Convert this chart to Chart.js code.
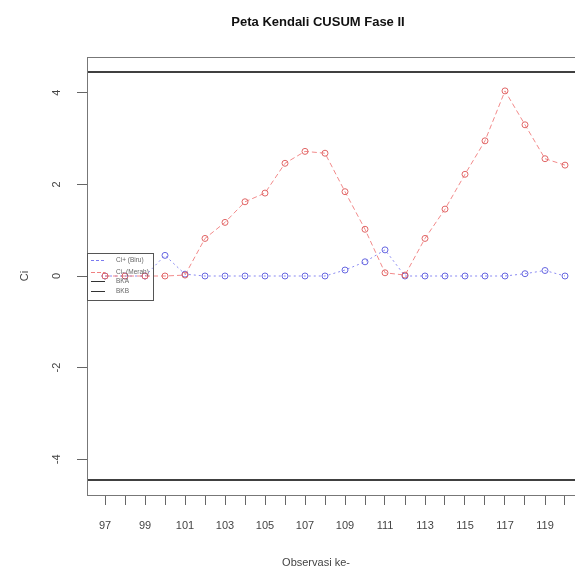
<!DOCTYPE html>
<html>
<head>
<meta charset="utf-8">
<script src="https://cdn.jsdelivr.net/npm/chart.js@4.4.1/dist/chart.umd.min.js"></script>
<style>
  body { margin: 0; background: #fff; overflow: hidden; }
  #wrap { width: 575px; height: 579px; overflow: hidden; }
</style>
</head>
<body>
<div id="wrap"><canvas id="myChart" width="600" height="579"></canvas></div>
<script>
const observasi = [97, 98, 99, 100, 101, 102, 103, 104, 105, 106, 107, 108,
                   109, 110, 111, 112, 113, 114, 115, 116, 117, 118, 119, 120];
const cPlus  = [0, 0, 0, 0.45, 0.04, 0, 0, 0, 0, 0, 0, 0,
                0.13, 0.31, 0.57, 0, 0, 0, 0, 0, 0, 0.05, 0.12, 0];
const cMinus = [0, 0, 0, 0, 0.02, 0.82, 1.17, 1.62, 1.81, 2.46, 2.72, 2.68,
                1.84, 1.02, 0.07, 0.02, 0.82, 1.46, 2.22, 2.95, 4.04, 3.30, 2.56, 2.42];
const bka = 4.45;   // batas kendali atas
const bkb = -4.45;  // batas kendali bawah

const xTicks = observasi;
const xTickLabels = ['97', '', '99', '', '101', '', '103', '', '105', '', '107', '',
                     '109', '', '111', '', '113', '', '115', '', '117', '', '119', ''];
const yTicks = [-4, -2, 0, 2, 4];
const yTickLabels = ['-4', '-2', '0', '2', '4'];
const legendLabels = ['Ci+ (Biru)', 'Ci- (Merah)', 'BKA', 'BKB'];

const FONT = "'Liberation Sans', Arial, sans-serif";

// R-style extras: box, control limits, titles, legend
const rPlot = {
  id: 'rPlot',
  beforeDatasetsDraw(chart) {
    const { ctx, chartArea: a, scales: { y } } = chart;
    ctx.save();
    ctx.strokeStyle = '#404040';
    ctx.lineWidth = 2;
    [bka, bkb].forEach(v => {
      const py = Math.round(y.getPixelForValue(v));
      ctx.beginPath();
      ctx.moveTo(a.left, py);
      ctx.lineTo(a.right, py);
      ctx.stroke();
    });
    ctx.lineWidth = 1;
    ctx.strokeStyle = '#777';
    ctx.strokeRect(a.left + 0.5, a.top + 0.5, a.width, a.height);
    ctx.restore();
  },
  afterDraw(chart) {
    const { ctx, chartArea: a, scales: { y } } = chart;
    ctx.save();
    ctx.fillStyle = '#111';
    ctx.textAlign = 'center';
    ctx.textBaseline = 'middle';
    ctx.font = 'bold 13px ' + FONT;
    ctx.fillText('Peta Kendali CUSUM Fase II', 318, 22);
    ctx.fillStyle = '#444';
    ctx.font = '11px ' + FONT;
    ctx.fillText('Observasi ke-', 316, 563);
    ctx.translate(25, y.getPixelForValue(0));
    ctx.rotate(-Math.PI / 2);
    ctx.fillText('Ci', 0, 0);
    ctx.restore();

    // legend (transparent background, like R)
    const lx = a.left;
    const ly = Math.round(y.getPixelForValue(0.5));
    ctx.save();
    ctx.strokeStyle = '#555';
    ctx.lineWidth = 1;
    ctx.strokeRect(lx + 0.5, ly + 0.5, 66, 47);
    const rows = [7, 19, 28, 38];
    const cols = ['#7a7af0', '#f08080', '#333', '#333'];
    const dashes = [[3, 2], [4, 2], [], []];
    ctx.font = '6.5px ' + FONT;
    ctx.textAlign = 'left';
    ctx.textBaseline = 'middle';
    legendLabels.forEach((lbl, i) => {
      const ry = ly + rows[i] + 0.5;
      ctx.strokeStyle = cols[i];
      ctx.setLineDash(dashes[i]);
      ctx.beginPath();
      ctx.moveTo(lx + 4, ry);
      ctx.lineTo(lx + 18, ry);
      ctx.stroke();
      ctx.setLineDash([]);
      ctx.fillStyle = '#666';
      ctx.fillText(lbl, lx + 29, ry);
    });
    ctx.restore();
  }
};

const ctx = document.getElementById('myChart').getContext('2d');
new Chart(ctx, {
  type: 'line',
  data: {
    datasets: [{
      label: legendLabels[1],
      data: observasi.map((o, i) => ({ x: o, y: cMinus[i] })),
      borderColor: '#f28a8a',
      borderWidth: 1,
      borderDash: [5, 3],
      pointStyle: 'circle',
      pointRadius: 3,
      pointBorderWidth: 1,
      pointBorderColor: '#e06666',
      pointBackgroundColor: 'rgba(0,0,0,0)',
      tension: 0
    }, {
      label: legendLabels[0],
      data: observasi.map((o, i) => ({ x: o, y: cPlus[i] })),
      borderColor: '#8a8af2',
      borderWidth: 1,
      borderDash: [2, 3],
      pointStyle: 'circle',
      pointRadius: 3,
      pointBorderWidth: 1,
      pointBorderColor: '#6666e0',
      pointBackgroundColor: 'rgba(0,0,0,0)',
      tension: 0
    }]
  },
  options: {
    responsive: false,
    animation: false,
    devicePixelRatio: 1,
    layout: { padding: { top: 57, right: 17, bottom: 0, left: 0 } },
    plugins: {
      legend: { display: false },
      title: { display: false },
      tooltip: { enabled: false }
    },
    scales: {
      x: {
        type: 'linear',
        min: 96.1,
        max: 120.9,
        afterBuildTicks: s => { s.ticks = xTicks.map(v => ({ value: v })); },
        afterFit: s => { s.height = 84; },
        grid: { drawOnChartArea: false, drawTicks: true, tickLength: 10, color: '#666' },
        border: { display: false },
        ticks: {
          autoSkip: false,
          maxRotation: 0,
          padding: 14,
          color: '#444',
          font: { family: FONT, size: 11 },
          callback: (v, i) => xTickLabels[i]
        }
      },
      y: {
        min: -4.78,
        max: 4.78,
        afterBuildTicks: s => { s.ticks = yTicks.map(v => ({ value: v })); },
        afterFit: s => { s.width = 87; },
        grid: { drawOnChartArea: false, drawTicks: true, tickLength: 10, color: '#666' },
        border: { display: false },
        ticks: {
          minRotation: 90,
          maxRotation: 90,
          crossAlign: 'center',
          padding: 15,
          color: '#444',
          font: { family: FONT, size: 11 },
          callback: (v, i) => yTickLabels[i]
        }
      }
    }
  },
  plugins: [rPlot]
});
</script>
</body>
</html>
